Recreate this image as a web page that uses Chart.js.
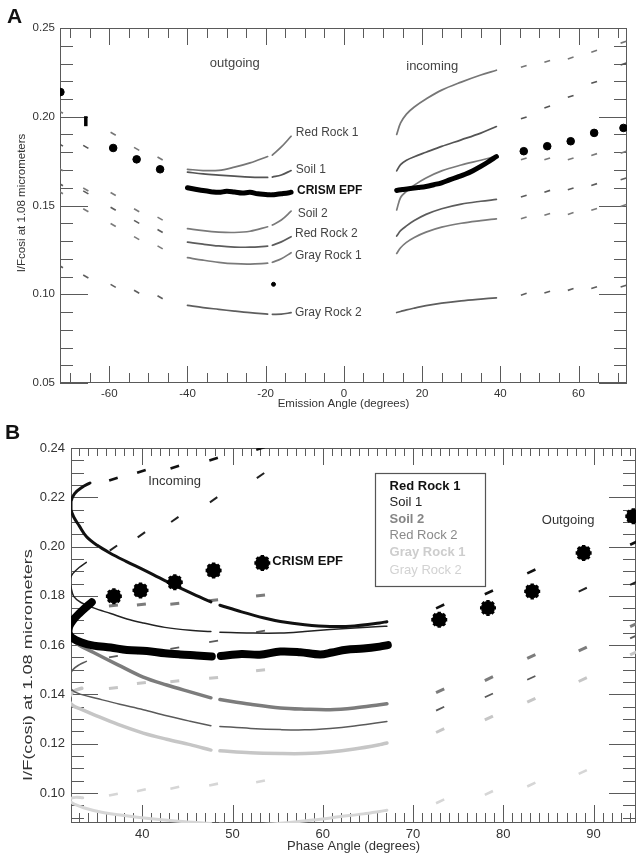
<!DOCTYPE html>
<html>
<head>
<meta charset="utf-8">
<title>I/F at 1.08 micrometers vs emission and phase angle</title>
<script src="https://cdn.jsdelivr.net/npm/chart.js@4.4.1/dist/chart.umd.min.js"></script>
<style>
  html, body { margin: 0; padding: 0; background: #fff; }
  #page { position: relative; width: 637px; height: 853px; overflow: hidden; }
  canvas { position: absolute; left: 0; }
  #chartA { top: 0; }
  #chartB { top: 415px; }
</style>
</head>
<body>
<div id="page">
  <canvas id="chartA" width="637" height="415"></canvas>
  <canvas id="chartB" width="648" height="438"></canvas>
</div>
<script>
const FONT = '"Liberation Sans", Arial, Helvetica, sans-serif';

const materials = ['Red Rock 1', 'Soil 1', 'Soil 2', 'Red Rock 2', 'Gray Rock 1', 'Gray Rock 2'];

// ---------- Panel A: I/F cos(i) against emission angle ----------
const xTicksA = [-60, -40, -20, 0, 20, 40, 60];
const yTicksA = [0.05, 0.10, 0.15, 0.20, 0.25];

const outAnglesA = [-40, -36, -32, -28, -24, -19.5, -19, -18.3, -16, -13.5];
const inAnglesA = [13.5, 14.5, 16, 18, 21, 25, 30, 35, 39];

const redRock1OutA = [0.1704, 0.1697, 0.1698, 0.1716, 0.1740, 0.1776, null, 0.1784, 0.1830, 0.1890];
const soil1OutA    = [0.1688, 0.1678, 0.1671, 0.1665, 0.1660, 0.1658, null, 0.1660, 0.1672, 0.1697];
const soil2OutA    = [0.1370, 0.1358, 0.1350, 0.1348, 0.1355, 0.1380, null, 0.1390, 0.1418, 0.1468];
const redRock2OutA = [0.1294, 0.1282, 0.1272, 0.1266, 0.1265, 0.1271, null, 0.1276, 0.1295, 0.1324];
const grayRock1OutA = [0.1206, 0.1192, 0.1180, 0.1172, 0.1170, 0.1175, null, 0.1180, 0.1200, 0.1234];
const grayRock2OutA = [0.0937, 0.0925, 0.0915, 0.0905, 0.0896, 0.0888, null, 0.0887, 0.0888, 0.0896];

const redRock1InA  = [0.1900, 0.1965, 0.2015, 0.2055, 0.2100, 0.2150, 0.2195, 0.2235, 0.2262];
const soil1InA     = [0.1695, 0.1730, 0.1755, 0.1775, 0.1800, 0.1833, 0.1870, 0.1908, 0.1945];
const soil2InA     = [0.1475, 0.1545, 0.1580, 0.1615, 0.1655, 0.1695, 0.1728, 0.1755, 0.1778];
const redRock2InA  = [0.1328, 0.1358, 0.1385, 0.1415, 0.1450, 0.1482, 0.1508, 0.1524, 0.1534];
const grayRock1InA = [0.1230, 0.1262, 0.1292, 0.1320, 0.1350, 0.1378, 0.1400, 0.1415, 0.1425];
const grayRock2InA = [0.0897, 0.0903, 0.0912, 0.0922, 0.0936, 0.0950, 0.0963, 0.0973, 0.0980];

const crismOutAnglesA = [-40, -38, -36, -34, -32, -30, -28, -26, -24, -22, -20, -19, -18.6, -18.3, -16, -14, -13.5];
const crismOutA = [0.1600, 0.1592, 0.1584, 0.1578, 0.1574, 0.1580, 0.1576, 0.1570, 0.1574, 0.1566, 0.1562, 0.1560, null, 0.1560, 0.1566, 0.1572, 0.1575];
const crismInAnglesA = [13.5, 15, 17, 19, 21, 23, 25, 27, 29, 31, 33, 35, 37, 39];
const crismInA = [0.1585, 0.1590, 0.1596, 0.1601, 0.1607, 0.1617, 0.1628, 0.1644, 0.1660, 0.1676, 0.1696, 0.1720, 0.1747, 0.1776];

// short model segments at the other viewing geometries
const dashAnglesA = [-72.5, -66, -59, -53, -47, 46, 52, 58, 64, 71.5];
const redRock1DashA  = [0.2028, null, 0.1904, 0.1819, 0.1765, 0.2284, 0.2312, 0.2331, 0.2369, 0.2420];
const soil1DashA     = [0.1843, 0.1830, null, null, null, 0.1994, 0.2055, 0.2115, 0.2194, 0.2297];
const soil2DashA     = [0.1704, 0.1590, 0.1565, 0.1473, 0.1426, 0.1763, 0.1763, 0.1763, 0.1787, 0.1800];
const redRock2DashA  = [0.1620, 0.1574, 0.1482, 0.1408, 0.1356, 0.1553, 0.1580, 0.1594, 0.1618, 0.1650];
const grayRock1DashA = [0.1575, 0.1473, 0.1390, 0.1316, 0.1264, 0.1430, 0.1450, 0.1455, 0.1478, 0.1500];
const grayRock2DashA = [0.1158, 0.1100, 0.1047, 0.1014, 0.0983, 0.1000, 0.1012, 0.1027, 0.1037, 0.1046];

const crismDotAnglesA = [-72.5, -59, -53, -47, 46, 52, 58, 64, 71.5];
const crismDotsA = [0.2139, 0.1824, 0.1760, 0.1704, 0.1806, 0.1834, 0.1862, 0.1909, 0.1937];
const crismBarAnglesA = [-66];
const crismBarA = [0.1975];
const strayAnglesA = [-18];
const strayA = [0.1056];

// ---------- Panel B: I/F cos(i) against phase angle ----------
const xTicksB = [40, 50, 60, 70, 80, 90];
const yTicksB = [0.10, 0.12, 0.14, 0.16, 0.18, 0.20, 0.22, 0.24];

const redRock1PhaseB = [34.2, 33.3, 32.5, 32.1, 32.1, 32.4, 33.0, 33.8, 35.0, 36.4, 38.2, 40.1, 42.5, 45.3, 47.6, 48.0, 48.6, 51.0, 53.5, 55.3, 58.0, 60.8, 63.5, 66.3, 67.1];
const redRock1B = [0.2258, 0.2240, 0.2215, 0.2183, 0.2150, 0.2120, 0.2085, 0.2041, 0.2005, 0.1974, 0.1940, 0.1906, 0.1862, 0.1813, 0.1775, null, 0.1762, 0.1735, 0.1710, 0.1696, 0.1683, 0.1676, 0.1678, 0.1690, 0.1695];
const soil1PhaseB = [33.8, 33.0, 32.3, 32.0, 32.1, 32.4, 33.2, 34.6, 36.5, 38.3, 40.1, 42.5, 45.3, 47.6, 48.0, 48.6, 52.0, 55.3, 58.0, 60.8, 63.5, 66.3, 67.1];
const soil1B = [0.1936, 0.1915, 0.1890, 0.1866, 0.1835, 0.1798, 0.1773, 0.1751, 0.1728, 0.1706, 0.1690, 0.1672, 0.1660, 0.1655, null, 0.1652, 0.1649, 0.1649, 0.1655, 0.1663, 0.1669, 0.1676, 0.1677];
const soil2PhaseB = [34.3, 33.4, 32.6, 32.1, 32.1, 32.8, 34.6, 37.3, 40.1, 42.7, 45.3, 47.6, 48.0, 48.6, 52.0, 55.3, 58.0, 60.8, 63.5, 66.3, 67.1];
const soil2B = [0.1778, 0.1755, 0.1720, 0.1680, 0.1640, 0.1605, 0.1570, 0.1520, 0.1470, 0.1438, 0.1410, 0.1386, null, 0.1379, 0.1360, 0.1345, 0.1340, 0.1338, 0.1345, 0.1358, 0.1362];
const redRock2PhaseB = [33.8, 33.0, 32.3, 31.9, 31.9, 32.3, 33.2, 35.0, 37.5, 40.1, 42.7, 45.3, 47.6, 48.0, 48.6, 52.0, 55.3, 58.0, 60.8, 63.5, 66.3, 67.1];
const redRock2B = [0.1534, 0.1520, 0.1500, 0.1470, 0.1440, 0.1415, 0.1400, 0.1383, 0.1360, 0.1338, 0.1313, 0.1291, 0.1273, null, 0.1270, 0.1262, 0.1257, 0.1256, 0.1262, 0.1272, 0.1286, 0.1290];
const grayRock1PhaseB = [33.3, 32.5, 32.0, 31.9, 32.3, 33.2, 34.6, 37.3, 40.1, 42.7, 45.3, 47.6, 48.0, 48.6, 52.0, 55.3, 58.0, 60.8, 63.5, 66.3, 67.1];
const grayRock1B = [0.1425, 0.1415, 0.1395, 0.1375, 0.1355, 0.1340, 0.1318, 0.1278, 0.1243, 0.1218, 0.1196, 0.1174, null, 0.1171, 0.1163, 0.1160, 0.1160, 0.1166, 0.1178, 0.1196, 0.1203];
const grayRock2PhaseB = [33.4, 32.6, 32.0, 32.2, 33.5, 35.5, 38.0, 41.0, 44.0, 47.6, 48.0, 48.6, 52.0, 55.3, 58.9, 62.0, 64.5, 66.3, 67.1];
const grayRock2B = [0.0980, 0.0982, 0.0975, 0.0960, 0.0940, 0.0922, 0.0908, 0.0895, 0.0885, 0.0876, null, 0.0874, 0.0870, 0.0877, 0.0890, 0.0904, 0.0915, 0.0925, 0.0930];

const crismPhaseB = [34.4, 33.8, 33.0, 32.3, 31.9, 31.8, 32.2, 33.2, 34.6, 36.5, 38.3, 40.5, 42.5, 44.2, 46.0, 47.7, 48.2, 48.7, 51.0, 53.0, 55.3, 57.5, 59.7, 61.0, 62.6, 64.5, 66.3, 67.2];
const crismB = [0.1774, 0.1755, 0.1728, 0.1700, 0.1675, 0.1650, 0.1630, 0.1612, 0.1598, 0.1590, 0.1580, 0.1576, 0.1567, 0.1562, 0.1558, 0.1554, null, 0.1556, 0.1564, 0.1561, 0.1574, 0.1571, 0.1562, 0.1570, 0.1581, 0.1586, 0.1594, 0.1600];

const dashPhaseB = [36.8, 39.9, 43.6, 47.9, 53.1, 73.0, 78.4, 83.1, 88.8, 94.5];
const redRock1DashB  = [0.2274, 0.2305, 0.2322, 0.2355, 0.2398, 0.1757, 0.1814, 0.1899, null, 0.2015];
const soil1DashB     = [0.1994, 0.2048, 0.2110, 0.2190, 0.2288, null, null, null, 0.1825, 0.1852];
const soil2DashB     = [0.1761, 0.1765, 0.1768, 0.1782, 0.1801, 0.1415, 0.1464, 0.1554, 0.1584, 0.1683];
const redRock2DashB  = [0.1553, 0.1570, 0.1588, 0.1615, 0.1656, 0.1342, 0.1396, 0.1467, null, 0.1635];
const grayRock1DashB = [0.1426, 0.1446, 0.1453, 0.1467, 0.1498, 0.1253, 0.1304, 0.1376, 0.1460, 0.1568];
const grayRock2DashB = [0.0993, 0.1011, 0.1021, 0.1034, 0.1047, 0.0966, 0.1000, 0.1034, 0.1085, null];

const crismStarPhaseB = [36.85, 39.8, 43.6, 47.9, 53.3, 72.9, 78.3, 83.2, 88.9, 94.4];
const crismStarB = [0.1798, 0.1822, 0.1855, 0.1903, 0.1933, 0.1703, 0.1751, 0.1818, 0.1974, 0.2123];

// ---------- dataset helpers ----------
const pts = (xs, ys) => xs.map((x, i) => ({ x, y: ys[i] }));

const curve = (xs, ys, color, width, tension = 0.35) => ({
  data: pts(xs, ys),
  showLine: true,
  borderColor: color,
  borderWidth: width,
  pointRadius: 0,
  tension,
  spanGaps: false,
  borderCapStyle: 'round',
  borderJoinStyle: 'round',
  clip: 0
});

const dashes = (xs, ys, color, radius, width, rotation) => ({
  data: pts(xs, ys).filter(p => p.y !== null),
  showLine: false,
  pointStyle: 'line',
  pointRadius: radius,
  pointBorderWidth: width,
  borderColor: color,
  pointBorderColor: color,
  pointRotation: rotation,
  clip: 0
});

const dots = (xs, ys, style, radius, width, rotation = 0) => ({
  data: pts(xs, ys),
  showLine: false,
  pointStyle: style,
  pointRadius: radius,
  pointBorderWidth: width,
  pointBackgroundColor: '#000',
  pointBorderColor: '#000',
  pointRotation: rotation,
  clip: 0
});

// ---------- frame, ticks and text drawn against the chart scales ----------
const framePlugin = {
  id: 'frame',
  beforeDatasetsDraw(chart, args, o) {
    const { ctx, chartArea: a, scales: { x, y } } = chart;
    const isMajor = (list, v) => list.some(m => Math.abs(m - v) < 1e-6);
    ctx.save();
    ctx.strokeStyle = o.axisColor;
    ctx.lineWidth = 1;
    ctx.strokeRect(Math.round(a.left) + 0.5, Math.round(a.top) + 0.5,
      Math.round(a.right - a.left) - 1, Math.round(a.bottom - a.top) - 1);
    ctx.beginPath();
    for (let i = Math.ceil(x.min / o.xMinor - 1e-9); i * o.xMinor <= x.max + 1e-9; i++) {
      const v = i * o.xMinor;
      const major = isMajor(o.xMajor, v);
      const px = Math.round(x.getPixelForValue(v)) + 0.5;
      const lb = major ? o.xLen[0] : o.xLen[1];
      const lt = major ? o.xTopLen[0] : o.xTopLen[1];
      ctx.moveTo(px, a.bottom); ctx.lineTo(px, a.bottom - lb);
      ctx.moveTo(px, a.top); ctx.lineTo(px, a.top + lt);
    }
    for (let i = Math.ceil(y.min / o.yMinor - 1e-9); i * o.yMinor <= y.max + 1e-9; i++) {
      const v = i * o.yMinor;
      const len = isMajor(o.yMajor, v) ? o.yLen[0] : o.yLen[1];
      const py = Math.round(y.getPixelForValue(v)) + 0.5;
      ctx.moveTo(a.left, py); ctx.lineTo(a.left + len, py);
      ctx.moveTo(a.right, py); ctx.lineTo(a.right - len, py);
    }
    ctx.stroke();

    // tick labels
    ctx.fillStyle = o.textColor;
    ctx.font = o.tickFont;
    ctx.textBaseline = 'middle';
    ctx.textAlign = 'center';
    o.xMajor.forEach(v => ctx.fillText(String(v), x.getPixelForValue(v), a.bottom + o.xLabelGap));
    ctx.textAlign = 'right';
    o.yMajor.forEach(v => ctx.fillText(v.toFixed(2), a.left - o.yLabelGap, y.getPixelForValue(v)));

    // axis titles
    ctx.font = o.titleFont;
    ctx.textAlign = 'center';
    ctx.fillText(o.xTitle, (a.left + a.right) / 2, a.bottom + o.xTitleGap);
    ctx.save();
    ctx.translate(o.yTitleX, o.yTitleY);
    ctx.rotate(-Math.PI / 2);
    ctx.scale(o.yTitleStretch || 1, 1);
    ctx.font = o.yTitleFont;
    ctx.fillText(o.yTitle, 0, 0);
    ctx.restore();

    // panel letter
    ctx.font = 'bold 21px ' + FONT;
    ctx.textAlign = 'left';
    ctx.fillStyle = '#111';
    ctx.fillText(o.letter, o.letterX, o.letterY);
    ctx.restore();
  },
  afterDatasetsDraw(chart, args, o) {
    const { ctx, scales: { x, y } } = chart;
    ctx.save();
    ctx.textBaseline = 'middle';
    (o.notes || []).forEach(n => {
      ctx.font = (n.bold ? 'bold ' : '') + n.size + 'px ' + FONT;
      ctx.fillStyle = n.color || o.noteColor;
      ctx.textAlign = n.align || 'left';
      ctx.fillText(n.text, x.getPixelForValue(n.x), y.getPixelForValue(n.y));
    });
    const L = o.legend;
    if (L) {
      const l = Math.round(x.getPixelForValue(L.x0)) + 0.5;
      const r = Math.round(x.getPixelForValue(L.x1)) + 0.5;
      const t = Math.round(y.getPixelForValue(L.y0)) + 0.5;
      const b = Math.round(y.getPixelForValue(L.y1)) + 0.5;
      ctx.fillStyle = '#fff';
      ctx.fillRect(l, t, r - l, b - t);
      ctx.strokeStyle = '#555';
      ctx.lineWidth = 1.2;
      ctx.strokeRect(l, t, r - l, b - t);
      ctx.textAlign = 'left';
      L.items.forEach((name, i) => {
        ctx.font = (L.bold[i] ? 'bold ' : '') + L.size + 'px ' + FONT;
        ctx.fillStyle = L.colors[i];
        ctx.fillText(name, x.getPixelForValue(L.textX), y.getPixelForValue(L.rows[i]));
      });
    }
    ctx.restore();
  }
};

Chart.register(framePlugin);

const baseOptions = (pad, xr, yr) => ({
  responsive: false,
  animation: false,
  events: [],
  layout: { padding: pad },
  scales: {
    x: { type: 'linear', min: xr[0], max: xr[1], display: false },
    y: { type: 'linear', min: yr[0], max: yr[1], display: false }
  },
  plugins: { legend: { display: false }, tooltip: { enabled: false } }
});

// ---------- Panel A ----------
const colA = ['#767676', '#545454', '#7a7a7a', '#5c5c5c', '#7a7a7a', '#5e5e5e'];
const outA = [redRock1OutA, soil1OutA, soil2OutA, redRock2OutA, grayRock1OutA, grayRock2OutA];
const inA = [redRock1InA, soil1InA, soil2InA, redRock2InA, grayRock1InA, grayRock2InA];
const dashA = [redRock1DashA, soil1DashA, soil2DashA, redRock2DashA, grayRock1DashA, grayRock2DashA];
const rotA = ctx => (ctx.raw && ctx.raw.x < 0 ? 30 : -18);

const datasetsA = [
  dots(strayAnglesA, strayA, 'circle', 2, 1),
  dots(crismBarAnglesA, crismBarA, 'line', 5, 3.5, 90),
  dots(crismDotAnglesA, crismDotsA, 'circle', 3.8, 1),
  curve(crismOutAnglesA, crismOutA, '#000', 5, 0.4),
  curve(crismInAnglesA, crismInA, '#000', 5, 0.4)
];
materials.forEach((m, i) => {
  datasetsA.push(curve(outAnglesA, outA[i], colA[i], 1.7));
  datasetsA.push(curve(inAnglesA, inA[i], colA[i], 1.7));
  datasetsA.push(dashes(dashAnglesA, dashA[i], colA[i], 3, 1.6, rotA));
});

const optsA = baseOptions({ left: 60, right: 10, top: 28, bottom: 32 }, [-72.6, 72.4], [0.05, 0.25]);
optsA.plugins.frame = {
  axisColor: '#5a5a5a', textColor: '#333', noteColor: '#444',
  xMajor: xTicksA, xMinor: 5, yMajor: yTicksA, yMinor: 0.01,
  xLen: [17, 10], xTopLen: [17, 10], yLen: [28, 13],
  tickFont: '11.5px ' + FONT, titleFont: '11.5px ' + FONT, yTitleFont: '11.5px ' + FONT,
  xLabelGap: 11, yLabelGap: 5, xTitleGap: 21,
  xTitle: 'Emission Angle (degrees)', yTitle: 'I/Fcosi at 1.08 micrometers',
  yTitleX: 22, yTitleY: 203,
  letter: 'A', letterX: 7, letterY: 17,
  notes: [
    { text: 'outgoing', x: -27.9, y: 0.2303, size: 13, align: 'center' },
    { text: 'incoming', x: 22.6, y: 0.2284, size: 13, align: 'center' },
    { text: 'Red Rock 1', x: -12.3, y: 0.1909, size: 12 },
    { text: 'Soil 1', x: -12.3, y: 0.1703, size: 12 },
    { text: 'CRISM EPF', x: -12.0, y: 0.1581, size: 12, bold: true, color: '#111' },
    { text: 'Soil 2', x: -11.8, y: 0.1453, size: 12 },
    { text: 'Red Rock 2', x: -12.5, y: 0.1341, size: 12 },
    { text: 'Gray Rock 1', x: -12.5, y: 0.1215, size: 12 },
    { text: 'Gray Rock 2', x: -12.5, y: 0.0896, size: 12 }
  ]
};

new Chart(document.getElementById('chartA'), {
  type: 'scatter',
  data: { datasets: datasetsA },
  options: optsA
});

// ---------- Panel B ----------
const lineColB = ['#111', '#222', '#7c7c7c', '#5a5a5a', '#c6c6c6', '#d6d6d6'];
const lineWidthB = [3, 1.5, 3.5, 1.5, 3.5, 3];
const phaseB = [redRock1PhaseB, soil1PhaseB, soil2PhaseB, redRock2PhaseB, grayRock1PhaseB, grayRock2PhaseB];
const valueB = [redRock1B, soil1B, soil2B, redRock2B, grayRock1B, grayRock2B];
const dashB = [redRock1DashB, soil1DashB, soil2DashB, redRock2DashB, grayRock1DashB, grayRock2DashB];
const dashWidthB = [2.6, 2, 3, 1.8, 3, 2.6];
const leftRotB = [-18, -35, -6, -10, -6, -12];

// CRISM stars: a filled core under two crossed asterisks
const datasetsB = [
  dots(crismStarPhaseB, crismStarB, 'circle', 4.8, 1),
  dots(crismStarPhaseB, crismStarB, 'star', 8, 3.4),
  dots(crismStarPhaseB, crismStarB, 'star', 7, 2.6, 22.5),
  curve(crismPhaseB, crismB, '#000', 8, 0.35)
];
materials.forEach((m, i) => {
  datasetsB.push(curve(phaseB[i], valueB[i], lineColB[i], lineWidthB[i]));
  datasetsB.push(dashes(dashPhaseB, dashB[i], lineColB[i], 4.5, dashWidthB[i],
    ctx => (ctx.raw && ctx.raw.x > 70 ? -25 : leftRotB[i])));
});

// canvas is 11px wider than the page so the frame's right edge sits at 636
const optsB = baseOptions({ left: 71, right: 12, top: 33, bottom: 30 }, [32.1, 94.7], [0.0878, 0.24]);
optsB.plugins.frame = {
  axisColor: '#5a5a5a', textColor: '#333', noteColor: '#333',
  xMajor: xTicksB, xMinor: 1, yMajor: yTicksB, yMinor: 0.005,
  xLen: [18, 10], xTopLen: [17, 8], yLen: [27, 13],
  tickFont: '13px ' + FONT, titleFont: '13px ' + FONT, yTitleFont: '13.5px ' + FONT,
  yTitleStretch: 1.35,
  xLabelGap: 11, yLabelGap: 6, xTitleGap: 23,
  xTitle: 'Phase Angle (degrees)', yTitle: 'I/F(cosi) at 1.08 micrometers',
  yTitleX: 28, yTitleY: 250,
  letter: 'B', letterX: 5, letterY: 18,
  notes: [
    { text: 'Incoming', x: 40.66, y: 0.2264, size: 13 },
    { text: 'Outgoing', x: 84.26, y: 0.2106, size: 13 },
    { text: 'CRISM EPF', x: 54.4, y: 0.1940, size: 13, bold: true, color: '#111' }
  ],
  legend: {
    x0: 65.8, x1: 78.0, y0: 0.2299, y1: 0.1841,
    textX: 67.4,
    rows: [0.2244, 0.2178, 0.2110, 0.2045, 0.1977, 0.1903],
    items: materials,
    colors: ['#111', '#222', '#858585', '#8a8a8a', '#cdcdcd', '#d2d2d2'],
    bold: [true, false, true, false, true, false],
    size: 13
  }
};

new Chart(document.getElementById('chartB'), {
  type: 'scatter',
  data: { datasets: datasetsB },
  options: optsB
});
</script>
</body>
</html>
